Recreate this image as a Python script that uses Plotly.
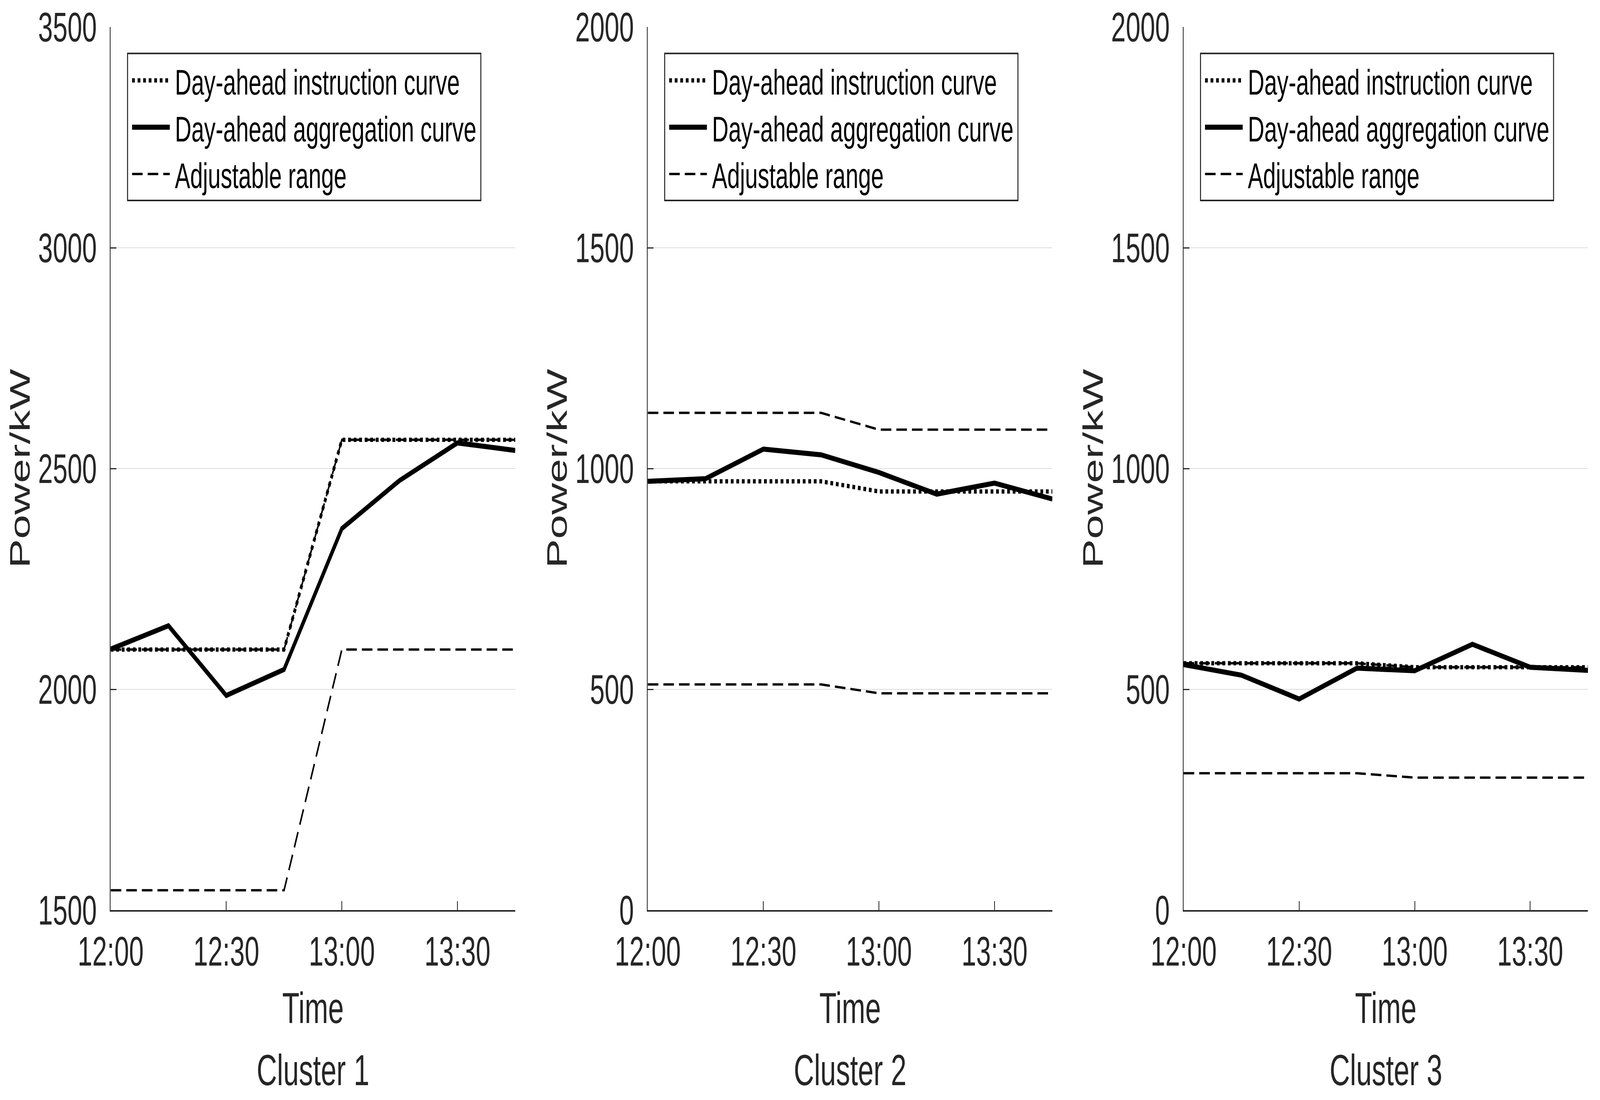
import plotly.graph_objects as go

# ---------------- data ----------------
times = ["12:00", "12:15", "12:30", "12:45", "13:00", "13:15", "13:30", "13:45"]
x_ticks = ["12:00", "12:30", "13:00", "13:30"]

c1_instruction = [2090, 2090, 2090, 2090, 2565, 2565, 2565, 2565]
c1_aggregation = [2091, 2144, 1986, 2045, 2364, 2473, 2558, 2541]
c1_upper = [2090, 2090, 2090, 2090, 2565, 2565, 2565, 2565]
c1_lower = [1545, 1545, 1545, 1545, 2090, 2090, 2090, 2090]

c2_instruction = [971, 971, 971, 971, 948, 948, 948, 948]
c2_aggregation = [971, 977, 1044, 1031, 991, 942, 967, 931]
c2_upper = [1126, 1126, 1126, 1126, 1088, 1088, 1088, 1088]
c2_lower = [511, 511, 511, 511, 491, 491, 491, 491]

c3_instruction = [559, 559, 559, 559, 550, 550, 550, 550]
c3_aggregation = [556, 532, 478, 548, 542, 602, 550, 543]
c3_upper = [559, 559, 559, 559, 550, 550, 550, 550]
c3_lower = [310, 310, 310, 310, 300, 300, 300, 300]

cluster_names = ["Cluster 1", "Cluster 2", "Cluster 3"]
y_ranges = [[1500, 3500], [0, 2000], [0, 2000]]
legend_labels = ["Day-ahead instruction curve", "Day-ahead aggregation curve", "Adjustable range"]

DAY = "2024-01-01 "
xs = [DAY + t for t in times]

clusters = [
    (c1_instruction, c1_aggregation, c1_upper, c1_lower),
    (c2_instruction, c2_aggregation, c2_upper, c2_lower),
    (c3_instruction, c3_aggregation, c3_upper, c3_lower),
]

# ---------------- layout geometry ----------------
W, H = 6360, 2815
x_domains = [[440 / W, 2048 / W], [2575 / W, 4183 / W], [4705 / W, 6312 / W]]
y_domain = [1 - 2329 / H, 1 - 69 / H]

FONT = "Arial, 'Liberation Sans', Helvetica, sans-serif"
AX = "#262626"

DASH = "42px,20px"
W_SOLID, W_DOT, W_DASH = 13, 11, 6

fig = go.Figure()

for i, (instr, aggr, upper, lower) in enumerate(clusters):
    n = i + 1
    xa = "x" if n == 1 else f"x{n}"
    ya = "y" if n == 1 else f"y{n}"
    for vals in (upper, lower):
        fig.add_trace(go.Scatter(x=xs, y=vals, mode="lines", xaxis=xa, yaxis=ya,
                                 line=dict(color="black", width=W_DASH, dash=DASH),
                                 showlegend=False, hoverinfo="skip"))
    fig.add_trace(go.Scatter(x=xs, y=instr, mode="lines", xaxis=xa, yaxis=ya,
                             line=dict(color="black", width=W_DOT, dash="dot"),
                             showlegend=False))
    fig.add_trace(go.Scatter(x=xs, y=aggr, mode="lines", xaxis=xa, yaxis=ya,
                             line=dict(color="black", width=W_SOLID),
                             showlegend=False))

layout = dict(
    width=W, height=H,
    margin=dict(l=0, r=0, t=0, b=0),
    paper_bgcolor="white", plot_bgcolor="white",
    showlegend=False,
    font=dict(family=FONT, color=AX, size=105),
)

tickvals = [DAY + t for t in x_ticks]
for i in range(3):
    n = i + 1
    xkey = "xaxis" if n == 1 else f"xaxis{n}"
    ykey = "yaxis" if n == 1 else f"yaxis{n}"
    layout[xkey] = dict(
        domain=x_domains[i], anchor="y" if n == 1 else f"y{n}",
        type="date", range=[xs[0], xs[-1]],
        tickvals=tickvals, ticktext=x_ticks,
        ticks="inside", ticklen=23, tickwidth=3, tickcolor=AX,
        showline=True, linecolor=AX, linewidth=4, mirror=False,
        showgrid=False, zeroline=False,
        tickfont=dict(family=FONT, size=105, color=AX),
        ticklabelstandoff=12, automargin=False,
    )
    layout[ykey] = dict(
        domain=y_domain, anchor="x" if n == 1 else f"x{n}",
        range=y_ranges[i], dtick=500, tick0=0,
        ticks="inside", ticklen=23, tickwidth=3, tickcolor=AX,
        showline=True, linecolor=AX, linewidth=4, mirror=False,
        showgrid=True, gridcolor="#dcdcdc", gridwidth=2, zeroline=False,
        tickfont=dict(family=FONT, size=105, color=AX),
        ticklabelstandoff=30, automargin=False,
    )

fig.update_layout(**layout)

# ---------------- axis titles / captions and per-panel legends ----------------
annotations = []
shapes = []
leg_box = dict(x0=0.0417, x1=0.915, y0=0.8035, y1=0.970)
leg_rows = [0.9395, 0.8865, 0.8335]
leg_styles = [dict(width=W_DOT, dash="dot"), dict(width=W_SOLID, dash="solid"),
              dict(width=W_DASH, dash=DASH)]
for i in range(3):
    n = i + 1
    xr = ("x" if n == 1 else f"x{n}") + " domain"
    yr = ("y" if n == 1 else f"y{n}") + " domain"
    annotations.append(dict(text="Power/kW", xref=xr, yref=yr, x=-0.2245, y=0.5,
                            xanchor="center", yanchor="middle", textangle=-90,
                            showarrow=False, font=dict(family=FONT, size=112, color=AX)))
    annotations.append(dict(text="Time", xref=xr, yref="paper", x=0.5, y=1 - 2579 / H,
                            xanchor="center", yanchor="middle", showarrow=False,
                            font=dict(family=FONT, size=112, color=AX)))
    annotations.append(dict(text=cluster_names[i], xref=xr, yref="paper", x=0.5, y=1 - 2738 / H,
                            xanchor="center", yanchor="middle", showarrow=False,
                            font=dict(family=FONT, size=112, color=AX)))
    shapes.append(dict(type="rect", xref=xr, yref=yr, **leg_box,
                       line=dict(color=AX, width=4), fillcolor="white", layer="above"))
    for label, yy, st in zip(legend_labels, leg_rows, leg_styles):
        shapes.append(dict(type="line", xref=xr, yref=yr, x0=0.0529, x1=0.1461, y0=yy, y1=yy,
                           line=dict(color="black", width=st["width"], dash=st["dash"]),
                           layer="above"))
        annotations.append(dict(text=label, xref=xr, yref=yr, x=0.1575, y=yy - 0.002,
                                xanchor="left", yanchor="middle", showarrow=False,
                                font=dict(family=FONT, size=91, color="black")))

fig.update_layout(annotations=annotations, shapes=shapes)

# Fit the 6360x2815 drawing to the browser's actual viewport so the whole
# chart occupies the photographed window exactly.
fit_js = """
(function(){
  var W = %d, H = %d;
  var gd = document.querySelector('.plotly-graph-div');
  if(!gd) return;
  var vw = window.innerWidth || document.documentElement.clientWidth || W;
  var vh = window.innerHeight || document.documentElement.clientHeight || H;
  var sx = vw / W, sy = vh / H;
  document.documentElement.style.margin = '0';
  document.documentElement.style.padding = '0';
  document.documentElement.style.overflow = 'hidden';
  document.body.style.margin = '0';
  document.body.style.padding = '0';
  document.body.style.overflow = 'hidden';
  var wrap = gd.parentElement;
  wrap.style.width = (W * sx) + 'px';
  wrap.style.height = (H * sy) + 'px';
  wrap.style.overflow = 'hidden';
  gd.style.transformOrigin = '0 0';
  gd.style.transform = 'scale(' + sx + ',' + sy + ')';
})();
""" % (W, H)

fig.write_html("out.html", post_script=fit_js, config={"displayModeBar": False})
